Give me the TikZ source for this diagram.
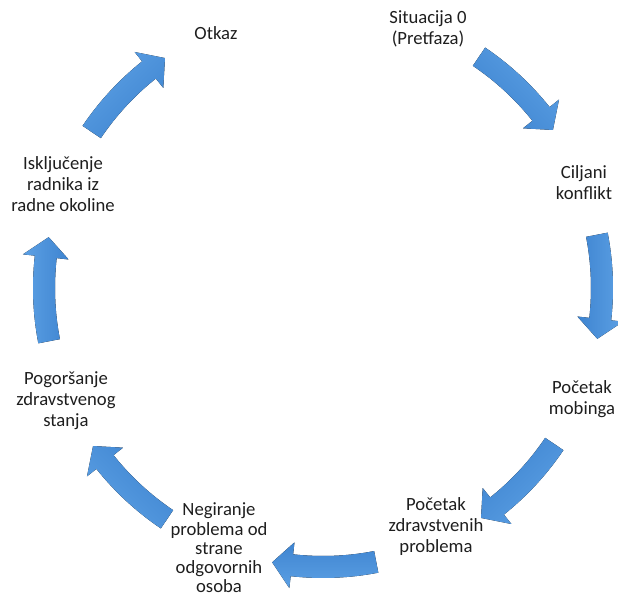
\documentclass[tikz,border=0pt]{standalone}
\usepackage{fontspec}
\setmainfont{Carlito}
\usetikzlibrary{calc}

\definecolor{cycllight}{RGB}{92,160,228}
\definecolor{cycldark}{RGB}{62,132,208}
\definecolor{cycltext}{RGB}{30,30,30}

\tikzset{
  stage/.style={font=\fontsize{14}{15.75}\selectfont, text=cycltext, align=center, inner sep=1pt},
  flow/.style={left color=cycllight, right color=cycldark, draw=none}
}

\begin{document}
\begin{tikzpicture}[x=0.75pt, y=0.75pt]
  \useasboundingbox (0,0) rectangle (618,599);
  \coordinate (ctr) at (323,311);
  % stages of the cycle
  \node[stage] (situacija) at (428,570) {Situacija 0\\(Pretfaza)};
  \node[stage] (konflikt) at (584,416) {Ciljani\\konflikt};
  \node[stage] (mobing) at (582,200) {Početak\\mobinga};
  \node[stage] (zdravlje) at (436,72) {Početak\\zdravstvenih\\problema};
  \node[stage, inner sep=0pt, font=\fontsize{14}{14.4}\selectfont] (negiranje) at (219,51) {Negiranje\\problema od\\strane\\odgovornih\\osoba};
  \node[stage] (pogorsanje) at (66,198) {Pogoršanje\\zdravstvenog\\stanja};
  \node[stage] (iskljucenje) at (63,415) {Isključenje\\radnika iz\\radne okoline};
  \node[stage] (otkaz) at (216,566) {Otkaz};
  % block arrows between the stages (radius 279, body 22, head 46)
  \foreach \m [count=\i] in {45,0,-45,-90,-135,180,135} {
    \pgfmathsetmacro\ta{\m+11}
    \pgfmathsetmacro\ba{\m-6.4}
    \pgfmathsetmacro\ha{\m-10.5}
    \coordinate (t\i) at ($(ctr)+(\ta:279)$);
    \coordinate (h\i) at ($(ctr)+(\ha:279)$);
    \fill[flow, shading angle=\m-90]
      ($(ctr)+(\ta:290)$) arc[start angle=\ta, end angle=\ba, radius=290]
      -- ($(ctr)+(\ba:302)$) -- (h\i) -- ($(ctr)+(\ba:256)$)
      -- ($(ctr)+(\ba:268)$) arc[start angle=\ba, end angle=\ta, radius=268]
      -- cycle;
  }
\end{tikzpicture}
\end{document}
